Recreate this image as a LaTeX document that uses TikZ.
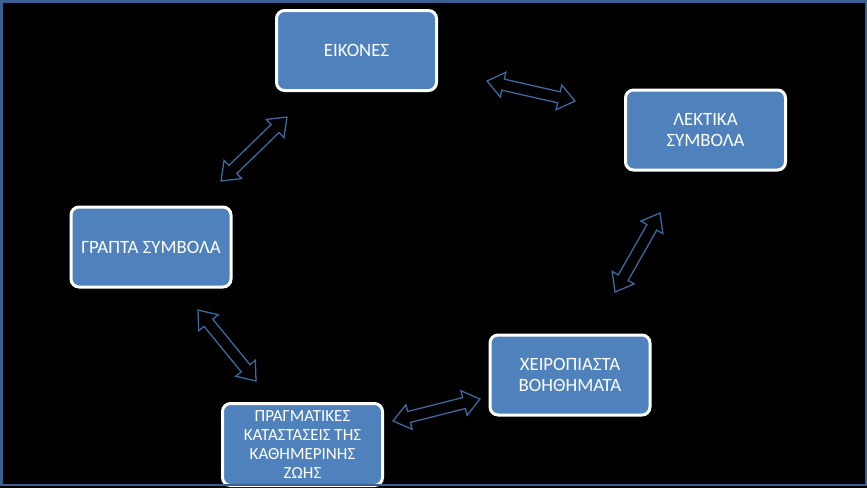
\documentclass[tikz,border=0pt]{standalone}
\usepackage{fontspec}
\setmainfont{Carlito}
\usetikzlibrary{shapes.arrows,calc}

\definecolor{boxblue}{RGB}{79,129,189}
\definecolor{arrowblue}{RGB}{62,104,160}
\definecolor{framecol}{RGB}{58,96,146}

% block arrow with two heads, tip to tip
\newcommand{\dblarrow}[2]{%
  \path let \p1=(#1), \p2=(#2), \n1={atan2(\y2-\y1,\x2-\x1)}, \n2={veclen(\x2-\x1,\y2-\y1)} in
    node[dblarr, minimum height=\n2, rotate=\n1] at ($(#1)!0.5!(#2)$) {};}

\begin{document}
\begin{tikzpicture}[x=1pt, y=-1pt,
    box/.style={draw=white, line width=3pt, fill=boxblue, rounded corners=8pt,
      minimum width=160pt, minimum height=80pt, inner sep=2pt, text=white,
      align=center, font=\fontsize{18.8}{20.5}\selectfont},
    smallbox/.style={box, font=\fontsize{17}{18.7}\selectfont},
    dblarr/.style={double arrow, draw=arrowblue, line width=1.3pt, fill=black,
      inner sep=5pt, minimum width=24pt, double arrow head extend=7pt,
      double arrow tip angle=75}]
    \useasboundingbox (0,0) rectangle (867,488);
    \fill[black] (0,0) rectangle (867,488);

    \node[box] (eikones) at (356.5,50.5) {ΕΙΚΟΝΕΣ};
    \node[box] (lektika) at (705.5,130) {ΛΕΚΤΙΚΑ\\ΣΥΜΒΟΛΑ};
    \node[box] (grapta) at (151,247) {ΓΡΑΠΤΑ ΣΥΜΒΟΛΑ};
    \node[box] (xeiro) at (570,375) {ΧΕΙΡΟΠΙΑΣΤΑ\\ΒΟΗΘΗΜΑΤΑ};
    \node[smallbox, minimum height=82pt] (pragm) at (302.5,444.5)
      {ΠΡΑΓΜΑΤΙΚΕΣ\\ΚΑΤΑΣΤΑΣΕΙΣ ΤΗΣ\\ΚΑΘΗΜΕΡΙΝΗΣ\\ΖΩΗΣ};

    % arrow tips
    \coordinate (a1) at (487,81);  \coordinate (b1) at (575,101);
    \coordinate (a2) at (287,117); \coordinate (b2) at (221,181);
    \coordinate (a3) at (660,213); \coordinate (b3) at (615,292);
    \coordinate (a4) at (198,310); \coordinate (b4) at (256,381);
    \coordinate (a5) at (393,421); \coordinate (b5) at (480,399);
    \foreach \i in {1,...,5} {\dblarrow{a\i}{b\i}}

    \draw[framecol, line width=2.5pt] (1.25,1.25) rectangle (865.75,484.75);
\end{tikzpicture}
\end{document}
